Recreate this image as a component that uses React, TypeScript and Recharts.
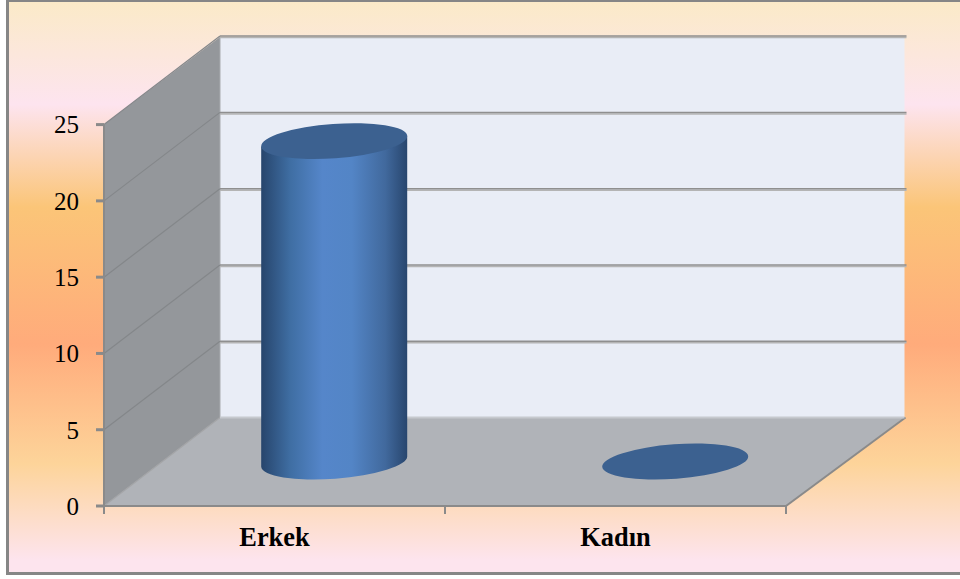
import { BarChart, Bar, XAxis, YAxis, CartesianGrid } from "recharts"

const categories = ["Erkek", "Kadın"]
const values = [21, 0]
const yTicks = [0, 5, 10, 15, 20, 25]

const table = categories.map((name, i) => ({ name, value: values[i] }))

const WIDTH = 960
const HEIGHT = 579
const PLOT = { left: 104, right: 786, top: 124.6, bottom: 506 }
// back wall of the box, offset up and to the right of the front plane
const BACK = { left: 220, right: 904.5, top: 37, bottom: 417.5 }
const SERIF = "'Liberation Serif', 'Times New Roman', serif"
const LINE = "#8a8a8a"

// ellipse of the cylinder caps
const CAP_A = 73.2
const CAP_B = 17.2
const CAP_TILT = 4.2

function Cylinder({ x, y, width, height }: any) {
  const cx = x + width / 2 + 59.2
  const top = y - 44.5
  const bottom = y + height - 44.5
  const t = (CAP_TILT * Math.PI) / 180
  const ox = CAP_A * Math.cos(t)
  const oy = CAP_A * Math.sin(t)
  const body = `M${cx - ox} ${top + oy} L${cx - ox} ${bottom + oy} A${CAP_A} ${CAP_B} ${-CAP_TILT} 0 0 ${cx + ox} ${bottom - oy} L${cx + ox} ${top - oy} Z`
  return (
    <g>
      {height > 0 && <path d={body} fill="url(#cylinderSide)" />}
      <ellipse
        cx={cx}
        cy={top}
        rx={CAP_A}
        ry={CAP_B}
        fill="#3c6190"
        transform={`rotate(${-CAP_TILT} ${cx} ${top})`}
      />
    </g>
  )
}

// one gridline: runs along the side wall, then across the back wall
function GridLine({ y1 }: any) {
  const by = y1 - (PLOT.bottom - BACK.bottom)
  const isFloor = y1 >= PLOT.bottom - 1
  return (
    <g>
      <line x1={PLOT.left} y1={y1} x2={BACK.left} y2={by} stroke={isFloor ? "#a3a5a8" : "#84878a"} strokeWidth={1.2} />
      {isFloor ? (
        <line x1={BACK.left} y1={by} x2={BACK.right} y2={by} stroke="#c6c9ce" strokeWidth={2} />
      ) : (
        <g>
          <line x1={BACK.left} y1={by + 1.5} x2={BACK.right + 2} y2={by + 1.5} stroke="#b4b4b4" strokeWidth={1.5} />
          <line x1={BACK.left} y1={by} x2={BACK.right + 2} y2={by} stroke="#8f8f8f" strokeWidth={1.5} />
        </g>
      )}
    </g>
  )
}

// side wall, back wall, floor and the category separators, under the chart layer
function Room() {
  const { left, right, top, bottom } = PLOT
  const step = (right - left) / categories.length
  return (
    <svg width={WIDTH} height={HEIGHT} style={{ position: "absolute", left: 0, top: 0 }}>
      <rect x={BACK.left} y={BACK.top} width={BACK.right - BACK.left} height={BACK.bottom - BACK.top} fill="#e9edf6" />
      <polygon points={`${left},${bottom} ${left},${top} ${BACK.left},${BACK.top} ${BACK.left},${BACK.bottom}`} fill="#94979b" />
      <polygon points={`${left},${bottom} ${right},${bottom} ${BACK.right},${BACK.bottom} ${BACK.left},${BACK.bottom}`} fill="#b0b3b8" />
      <line x1={right} y1={bottom} x2={BACK.right + 1} y2={BACK.bottom} stroke={LINE} strokeWidth={2} />
      <line x1={BACK.left} y1={BACK.top} x2={BACK.left} y2={BACK.bottom} stroke="#a9abae" strokeWidth={1} />
      {[0, 1, 2].map((i) => (
        <line key={i} x1={left + i * step} y1={bottom} x2={left + i * step} y2={bottom + 8} stroke={LINE} strokeWidth={2} />
      ))}
    </svg>
  )
}

export default function App() {
  return (
    <div style={{ position: "absolute", left: 0, top: 0, width: WIDTH, height: HEIGHT, background: "#fff", overflow: "hidden" }}>
      <div
        style={{
          position: "absolute",
          left: 6,
          top: 0,
          width: 954,
          height: 575,
          boxSizing: "border-box",
          borderStyle: "solid",
          borderColor: "#868686",
          borderWidth: "2px 0 3px 3px",
          background:
            "linear-gradient(180deg, #fbeac8 0%, #fde4ef 18%, #fbc578 36%, #ffab7b 60%, #fdd49a 81%, #fde4ee 98%, #fde4ee 100%)",
        }}
      />
      <Room />
      <div style={{ position: "absolute", left: 0, top: 0 }}>
        <BarChart
          width={WIDTH}
          height={HEIGHT}
          data={table}
          margin={{ left: 0, top: PLOT.top, right: WIDTH - PLOT.right, bottom: 0 }}
        >
          <defs>
            <linearGradient id="cylinderSide" x1="0" y1="0" x2="1" y2="0">
              <stop offset="0%" stopColor="#27456c" />
              <stop offset="20%" stopColor="#3f6ea3" />
              <stop offset="42%" stopColor="#5586ca" />
              <stop offset="62%" stopColor="#5385c6" />
              <stop offset="85%" stopColor="#41699d" />
              <stop offset="100%" stopColor="#28466e" />
            </linearGradient>
          </defs>
          <CartesianGrid vertical={false} horizontal={(p: any) => <GridLine key={p.y1} {...p} />} syncWithTicks />
          <XAxis
            dataKey="name"
            height={HEIGHT - PLOT.bottom}
            tickLine={false}
            tickSize={0}
            tickMargin={21}
            axisLine={{ stroke: LINE, strokeWidth: 2 }}
            tick={{ fill: "#000", fontSize: 26.4, fontWeight: 700, fontFamily: SERIF }}
          />
          <YAxis
            width={PLOT.left}
            domain={[0, 25]}
            ticks={yTicks}
            interval={0}
            tickSize={8}
            tickMargin={17}
            axisLine={{ stroke: LINE, strokeWidth: 2 }}
            tickLine={{ stroke: LINE, strokeWidth: 3 }}
            tick={{ fill: "#000", fontSize: 25, fontFamily: SERIF }}
          />
          <Bar dataKey="value" barSize={146} shape={<Cylinder />} isAnimationActive={false} />
        </BarChart>
      </div>
    </div>
  )
}
